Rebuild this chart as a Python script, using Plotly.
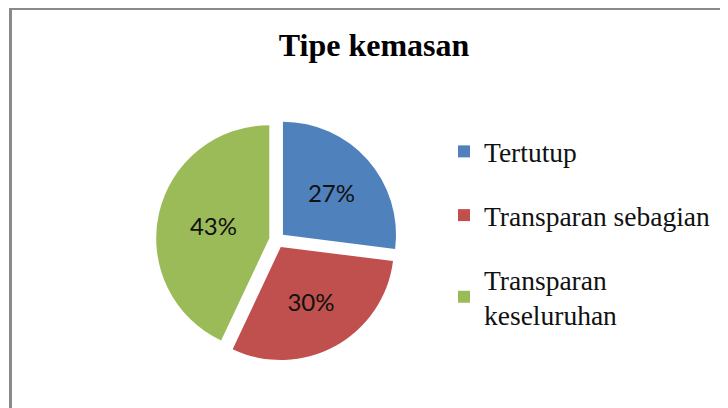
import plotly.graph_objects as go

title = "Tipe kemasan"
categories = ["Tertutup", "Transparan sebagian", "Transparan<br>keseluruhan"]
values = [27, 30, 43]
colors = ["#4F81BD", "#C0504D", "#9BBB59"]

W, H = 728, 408
cx, cy, half = 269, 232, 121

fig = go.Figure()
fig.add_trace(go.Pie(
    labels=categories,
    values=values,
    sort=False,
    direction="clockwise",
    rotation=0,
    pull=[0.07, 0.07, 0.07],
    marker=dict(colors=colors, line=dict(width=0)),
    textinfo="percent",
    texttemplate="%{percent:.0%}",
    textposition="inside",
    insidetextorientation="horizontal",
    textfont=dict(family="Lato, Carlito, sans-serif", size=24, color="#111111"),
    domain=dict(x=[(cx - half) / W, (cx + half) / W], y=[1 - (cy + half) / H, 1 - (cy - half) / H]),
    showlegend=False,
    hoverinfo="label+percent",
))

for i, (lab, col) in enumerate(zip(categories, colors)):
    fig.add_trace(go.Scatter(
        x=[None], y=[None], mode="markers", name=lab,
        marker=dict(symbol="square", size=12, color=col, line=dict(width=0)),
        legendgroup=f"g{i}", showlegend=True,
    ))

fig.update_layout(
    width=W, height=H,
    margin=dict(l=0, r=0, t=0, b=0),
    paper_bgcolor="white", plot_bgcolor="rgba(0,0,0,0)",
    title=dict(text="<b>" + title + "</b>", x=366 / W, xanchor="center",
               y=1 - 37 / H, yanchor="middle", yref="container",
               font=dict(family="Liberation Serif, Times New Roman, serif", size=32, color="#000000")),
    legend=dict(x=436 / W, y=1 - 119 / H, xanchor="left", yanchor="top",
                font=dict(family="Liberation Serif, Times New Roman, serif", size=27.5, color="#111111"),
                tracegroupgap=25, bgcolor="rgba(0,0,0,0)", itemwidth=30),
    xaxis=dict(visible=False), yaxis=dict(visible=False),
    shapes=[
        dict(type="line", xref="paper", yref="paper", x0=2.5 / W, x1=2.5 / W, y0=0, y1=1,
             line=dict(color="#8a8a8a", width=3)),
        dict(type="line", xref="paper", yref="paper", x0=1 / W, x1=1, y0=1 - 0.5 / H, y1=1 - 0.5 / H,
             line=dict(color="#8a8a8a", width=3)),
    ],
)

fig.write_html("out.html")
